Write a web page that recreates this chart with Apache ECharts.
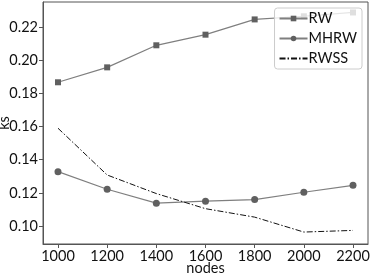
<!DOCTYPE html>
<html>
<head>
<meta charset="utf-8">
<script src="https://cdn.jsdelivr.net/npm/echarts@6/dist/echarts.min.js"></script>
<style>
  html, body { margin: 0; padding: 0; background: #fff; }
  #main { width: 370px; height: 274px; }
</style>
</head>
<body>
<div id="main"></div>
<script>
// data
const nodes = [1000, 1200, 1400, 1600, 1800, 2000, 2200];
const rw = [0.1867, 0.1957, 0.2090, 0.2154, 0.2246, 0.2265, 0.2288];
const mhrw = [0.1328, 0.1222, 0.1138, 0.1150, 0.1160, 0.1204, 0.1246];
const rwss = [0.1590, 0.1308, 0.1196, 0.1105, 0.1054, 0.0964, 0.0974];
const yTicks = [0.10, 0.12, 0.14, 0.16, 0.18, 0.20, 0.22];

const pairs = arr => nodes.map((n, i) => [n, arr[i]]);

const chart = echarts.init(document.getElementById('main'), null, { renderer: 'canvas' });
const font = 'Lato';

chart.setOption({
  animation: false,
  textStyle: { fontFamily: font },
  grid: { left: 43, top: 2, right: 2, bottom: 30, show: true, borderColor: '#555', borderWidth: 1,
    containLabel: false, outerBoundsMode: 'none' },
  xAxis: {
    type: 'value',
    min: 939, max: 2261,
    name: 'nodes', nameLocation: 'middle', nameGap: 17, nameMoveOverlap: false,
    nameTextStyle: { fontSize: 14.5, color: '#111', fontFamily: font },
    axisLine: { lineStyle: { color: '#555' } },
    axisTick: { show: true, length: 4, lineStyle: { color: '#555' }, customValues: nodes },
    axisLabel: { fontSize: 14.5, color: '#111', margin: 5, customValues: nodes, fontFamily: font,
      formatter: v => String(v) },
    splitLine: { show: false }
  },
  yAxis: {
    type: 'value',
    min: 0.0892, max: 0.2351,
    name: 'ks', nameLocation: 'middle', nameGap: 31, nameMoveOverlap: false,
    nameTextStyle: { fontSize: 14.5, color: '#111', fontFamily: font },
    axisLine: { show: true, lineStyle: { color: '#555' } },
    axisTick: { show: true, length: 4, lineStyle: { color: '#555' }, customValues: yTicks },
    axisLabel: { fontSize: 14.5, color: '#111', margin: 5, customValues: yTicks, fontFamily: font,
      formatter: v => v.toFixed(2) },
    splitLine: { show: false }
  },
  legend: {
    orient: 'vertical',
    right: 8, top: 8,
    itemWidth: 28, itemHeight: 7, itemGap: 5,
    padding: [3, 5, 3, 4],
    backgroundColor: 'rgba(255,255,255,0.8)',
    borderColor: '#ccc', borderWidth: 1, borderRadius: 3,
    textStyle: { fontSize: 14.5, color: '#111', fontFamily: font, padding: [0, 0, 0, -4] },
    data: ['RW', 'MHRW', { name: 'RWSS', itemStyle: { opacity: 0 } }]
  },
  series: [
    {
      name: 'RW', type: 'line', data: pairs(rw),
      symbol: 'rect', symbolSize: 6,
      lineStyle: { color: '#7f7f7f', width: 1.2 },
      itemStyle: { color: '#606060' }
    },
    {
      name: 'MHRW', type: 'line', data: pairs(mhrw),
      symbol: 'circle', symbolSize: 7,
      lineStyle: { color: '#7f7f7f', width: 1.2 },
      itemStyle: { color: '#606060' }
    },
    {
      name: 'RWSS', type: 'line', data: pairs(rwss),
      symbol: 'none',
      lineStyle: { color: '#111', width: 1, type: [6, 2, 1.5, 2] },
      itemStyle: { color: '#111' }
    }
  ]
});
</script>
</body>
</html>
